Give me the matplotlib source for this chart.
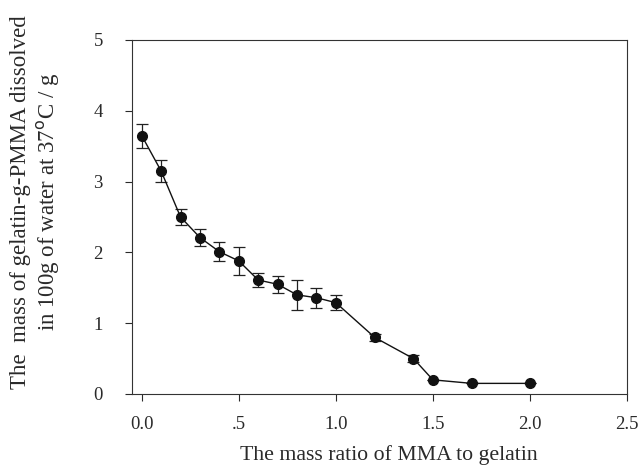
import matplotlib
matplotlib.use("Agg")
import matplotlib.pyplot as plt

ratio = [0.0, 0.1, 0.2, 0.3, 0.4, 0.5, 0.6, 0.7, 0.8, 0.9, 1.0, 1.2, 1.4, 1.5, 1.7, 2.0]
mass = [3.65, 3.15, 2.50, 2.21, 2.01, 1.88, 1.61, 1.55, 1.40, 1.36, 1.29, 0.80, 0.50, 0.20, 0.15, 0.15]
err = [0.17, 0.155, 0.115, 0.12, 0.13, 0.20, 0.10, 0.12, 0.21, 0.14, 0.11, 0.05, 0.05, 0.0, 0.0, 0.0]
xticks = [0.0, 0.5, 1.0, 1.5, 2.0, 2.5]
xticklabels = ["0.0", ".5", "1.0", "1.5", "2.0", "2.5"]
yticks = [0, 1, 2, 3, 4, 5]

plt.rcParams['font.family'] = ['Liberation Serif', 'DejaVu Serif']
tc = '#2a2a2a'
fig = plt.figure(figsize=(6.4, 4.74), dpi=100)
ax = fig.add_axes([132/640, 1-394/474, (627-132)/640, (394-40)/474])

ax.errorbar(ratio, mass, yerr=err, fmt='-o', color='#111111', ms=7, lw=1.0,
            elinewidth=0.9, capsize=4, capthick=0.9, ecolor='#222222')

ax.set_xlim(-0.05, 2.5)
ax.set_ylim(0, 5)
ax.set_xticks(xticks)
ax.set_xticklabels(xticklabels)
ax.set_yticks(yticks)
ax.tick_params(direction='out', length=5, width=0.8, labelsize=13.5, colors=tc, pad=11)
ax.tick_params(axis='y', pad=16)
for s in ax.spines.values():
    s.set_linewidth(0.8)
    s.set_color('#333333')

fig.text(389/640, 1-455/474, 'The mass ratio of MMA to gelatin', ha='center', va='center',
         fontsize=15.7, color=tc)
fig.text(36/640, 1-202/474, 'The  mass of gelatin-g-PMMA dissolved\nin 100g of water at 37$^{\\rm o}$C / g',
         rotation=90, ha='center', va='center', fontsize=16.5, color=tc, linespacing=1.2,
         multialignment='center')

fig.savefig('out.png', dpi=100)
